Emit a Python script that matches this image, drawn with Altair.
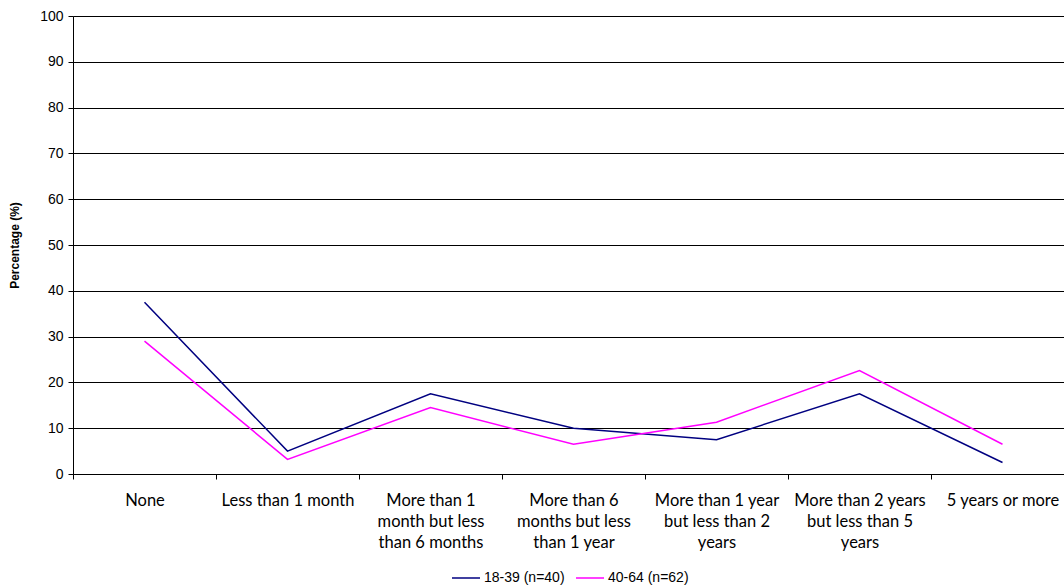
import altair as alt
import pandas as pd

categories = [
    "None",
    "Less than 1 month",
    "More than 1|month but less|than 6 months",
    "More than 6|months but less|than 1 year",
    "More than 1 year|but less than 2|years",
    "More than 2 years|but less than 5|years",
    "5 years or more",
]
series_names = ["18-39 (n=40)", "40-64 (n=62)"]
values_18_39 = [37.5, 5.0, 17.5, 10.0, 7.5, 17.5, 2.5]
values_40_64 = [29.0, 3.2, 14.5, 6.5, 11.3, 22.6, 6.5]
colors = ["#000080", "#FF00FF"]

rows = []
for c, v in zip(categories, values_18_39):
    rows.append({"cat": c, "series": series_names[0], "pct": v})
for c, v in zip(categories, values_40_64):
    rows.append({"cat": c, "series": series_names[1], "pct": v})
df = pd.DataFrame(rows)

chart = alt.Chart(df).mark_line(strokeWidth=1.5).encode(
    x=alt.X(
        "cat:N",
        sort=categories,
        scale=alt.Scale(range=[0, 1001], paddingInner=0, paddingOuter=0),
        axis=alt.Axis(
            title=None,
            labelExpr="split(datum.label, '|')",
            labelAngle=0,
            labelFont="Lato",
            labelFontSize=16.5,
            labelColor="#000",
            labelLineHeight=21,
            labelPadding=13,
            labelBaseline="top",
            tickBand="extent",
            tickSize=5,
            tickColor="#000",
            domainColor="#000",
            grid=False,
        ),
    ),
    y=alt.Y(
        "pct:Q",
        scale=alt.Scale(domain=[0, 100], nice=False),
        axis=alt.Axis(
            title="Percentage (%)",
            titleFont="Liberation Sans",
            titleFontSize=12,
            titleFontWeight="bold",
            titleColor="#000",
            titlePadding=18,
            values=list(range(0, 101, 10)),
            labelFont="Liberation Sans",
            labelFontSize=14,
            labelColor="#000",
            labelPadding=5,
            tickSize=5,
            tickColor="#000",
            domainColor="#000",
            gridColor="#000",
            gridOpacity=1,
            gridWidth=1,
        ),
    ),
    color=alt.Color(
        "series:N",
        scale=alt.Scale(domain=series_names, range=colors),
        legend=alt.Legend(
            title=None,
            orient="none",
            direction="horizontal",
            legendX=378,
            legendY=547,
            symbolType="stroke",
            symbolSize=784,
            symbolStrokeWidth=1.5,
            labelFont="Liberation Sans",
            labelFontSize=14,
            labelColor="#000",
            columnPadding=8,
            labelOffset=3,
        ),
    ),
).properties(
    width=991,
    height=458,
    autosize=alt.AutoSizeParams(type="none"),
    padding={"left": 73, "top": 16, "right": 0, "bottom": 114},
).configure_view(stroke=None).configure(background="white")

chart.save("out.html", embed_options={"renderer": "svg", "actions": False})
